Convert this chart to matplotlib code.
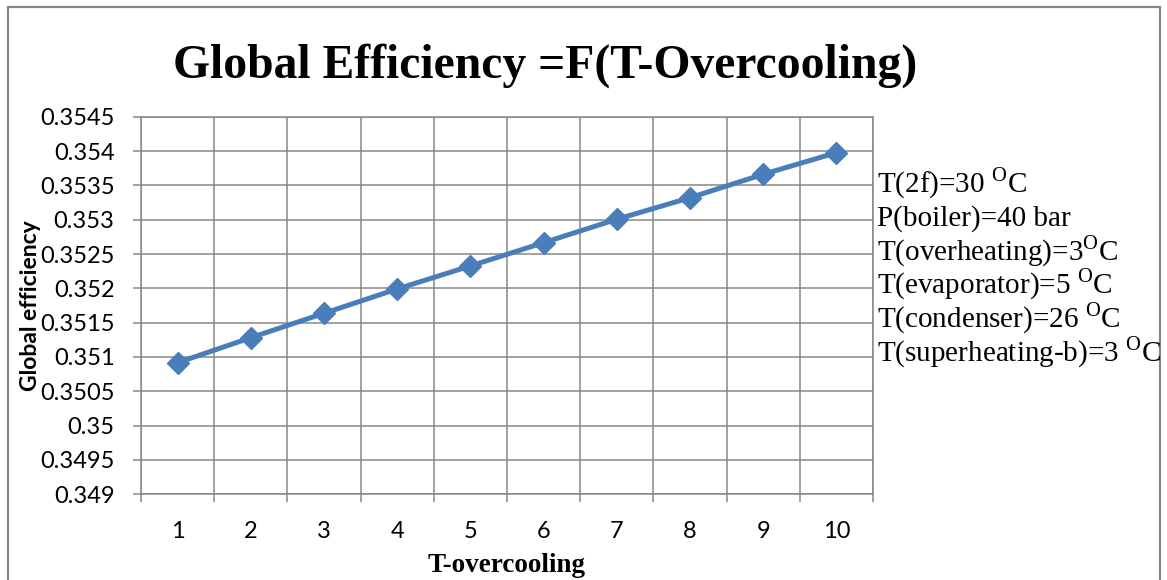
import matplotlib.pyplot as plt
import numpy as np

# data
t_overcooling = [1, 2, 3, 4, 5, 6, 7, 8, 9, 10]
global_eff = [0.350917, 0.351281, 0.351637, 0.351991, 0.352326,
              0.352665, 0.353006, 0.353320, 0.353661, 0.353976]
y_ticks = [0.349, 0.3495, 0.35, 0.3505, 0.351, 0.3515, 0.352,
           0.3525, 0.353, 0.3535, 0.354, 0.3545]
y_tick_labels = ['0.349', '0.3495', '0.35', '0.3505', '0.351', '0.3515',
                 '0.352', '0.3525', '0.353', '0.3535', '0.354', '0.3545']
note_lines = [r'T(2f)=30 $^{\mathrm{O}}$C',
              r'P(boiler)=40 bar',
              r'T(overheating)=3$^{\mathrm{O}}$C',
              r'T(evaporator)=5 $^{\mathrm{O}}$C',
              r'T(condenser)=26 $^{\mathrm{O}}$C',
              r'T(superheating-b)=3 $^{\mathrm{O}}$C']

plt.rcParams['mathtext.fontset'] = 'custom'
plt.rcParams['mathtext.rm'] = 'Liberation Serif'

grid_c = '#878787'
line_c = '#4A7EBB'

fig = plt.figure(figsize=(11.67, 5.8), dpi=100)
ax = fig.add_axes([141 / 1167, 1 - 494.3 / 580, (873 - 141) / 1167, (494.3 - 116.7) / 580])

ax.plot(t_overcooling, global_eff, color=line_c, linewidth=3.6, marker='D',
        markersize=11, zorder=3)

ax.set_xlim(0.5, 10.5)
ax.set_ylim(0.349, 0.3545)
ax.set_yticks(y_ticks)
ax.set_yticklabels(y_tick_labels, family='Lato', fontsize=17)
ax.set_xticks(t_overcooling)
ax.set_xticklabels([str(v) for v in t_overcooling], family='Lato', fontsize=17)
ax.set_xticks(np.arange(0.5, 11, 1), minor=True)

ax.tick_params(axis='x', which='major', length=0, pad=19)
ax.tick_params(axis='x', which='minor', length=6, width=1.1, color=grid_c, direction='out')
ax.tick_params(axis='y', which='major', length=6, width=1.1, color=grid_c, direction='out', pad=13)

ax.grid(True, axis='y', which='major', color=grid_c, linewidth=1.1)
ax.grid(True, axis='x', which='minor', color=grid_c, linewidth=1.1)
for s in ax.spines.values():
    s.set_color(grid_c)
    s.set_linewidth(1.1)

# chart title and axis titles
fig.text(545 / 1167, 1 - 78 / 580, 'Global Efficiency =F(T-Overcooling)',
         family='Liberation Serif', fontweight='bold', fontsize=34.3,
         ha='center', va='baseline')
fig.text(31 / 1167, 1 - 306 / 580, 'Global efficiency', family='Lato',
         fontweight='bold', fontsize=16.5, rotation=90, ha='center', va='center')
fig.text(507 / 1167, 1 - 566 / 580, 'T-overcooling', family='Liberation Serif',
         fontweight='bold', fontsize=19.5, ha='center', va='center')

# text box with the operating conditions
for i, s in enumerate(note_lines):
    fig.text(877 / 1167, 1 - (192.3 + i * 33.7) / 580, s,
             family='Liberation Serif', fontsize=21, ha='left', va='baseline')

# outer chart frame
frame = plt.Rectangle((8 / 1167, -0.05), (1160 - 8) / 1167, 1 - 7 / 580 + 0.05,
                      transform=fig.transFigure, fill=False,
                      edgecolor=grid_c, linewidth=1.6)
fig.add_artist(frame)

plt.savefig('out.png', dpi=100)
